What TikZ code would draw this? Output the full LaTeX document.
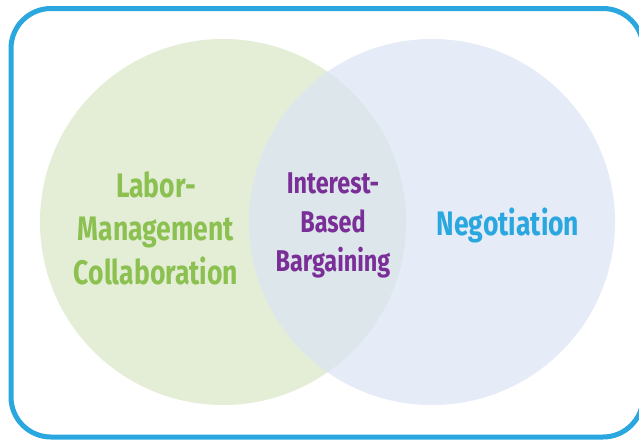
\documentclass[tikz,border=0pt]{standalone}
\usepackage{fontspec}
\setmainfont{Fira Sans}[FakeStretch=0.78]
\definecolor{frameblue}{HTML}{2AA7DF}
\definecolor{greenfill}{HTML}{E4EED7}
\definecolor{bluefill}{HTML}{E5EBF7}
\definecolor{mixfill}{HTML}{DDE6EA}
\definecolor{greentext}{HTML}{8CC152}
\definecolor{purpletext}{HTML}{7A2E97}
\definecolor{bluetext}{HTML}{2AA7DF}
\tikzset{
  lbl/.style={align=center, font=\bfseries\fontsize{34}{43.5}\selectfont, inner sep=0pt},
  midlbl/.style={align=center, font=\bfseries\fontsize{30}{39}\selectfont, inner sep=0pt}
}
\begin{document}
\begin{tikzpicture}[x=1pt,y=-1pt]
\useasboundingbox (0,0) rectangle (639,439);
\fill[white] (0,0) rectangle (639,439);
\fill[greenfill] (223,222) circle (183);
\fill[bluefill] (432,222) circle (183);
\begin{scope}
\clip (223,222) circle (183);
\fill[mixfill] (432,222) circle (183);
\end{scope}
\draw[frameblue, line width=5pt, rounded corners=40pt] (11,8.5) rectangle (643,437);
\node[lbl, text=greentext, anchor=base] (lmc) at (156,284) {Labor-\\Management\\Collaboration};
\node[midlbl, text=purpletext, anchor=base] (ibb) at (333,271) {Interest-\\Based\\Bargaining};
\node[lbl, text=bluetext, anchor=base] (neg) at (508,235) {Negotiation};
\end{tikzpicture}
\end{document}
